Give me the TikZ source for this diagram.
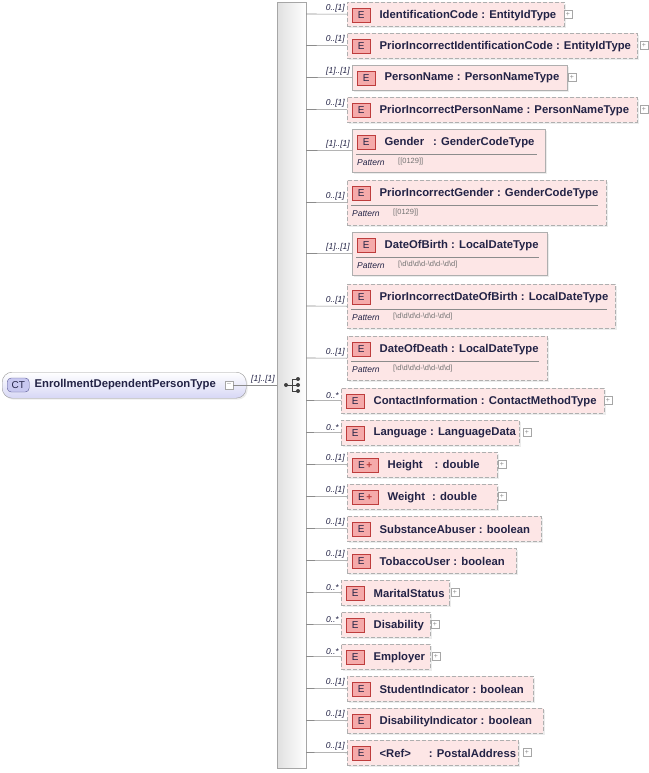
\documentclass[tikz,border=0pt]{standalone}
\usepackage{fontspec}
\setmainfont{Liberation Sans}
\usetikzlibrary{shadows}
\definecolor{efill}{RGB}{253,230,230}
\definecolor{ebord}{RGB}{175,175,175}
\definecolor{bfill}{RGB}{245,170,170}
\definecolor{bbord}{RGB}{190,60,60}
\definecolor{txt}{RGB}{35,35,70}
\tikzset{
 req/.style={draw=ebord,fill=efill,inner sep=0pt,drop shadow={shadow xshift=1.5pt,shadow yshift=-1.5pt,fill=black!15}},
 opt/.style={req,dash pattern=on 4pt off 2pt},
 ebadge/.style={draw=bbord,fill=bfill,inner sep=0pt,minimum height=14,font=\fontsize{10}{10}\selectfont,text=txt},
 etext/.style={font=\bfseries\fontsize{11.3}{12}\selectfont,text=txt,inner sep=0pt},
 mult/.style={font=\itshape\fontsize{8.5}{9}\selectfont,text=txt,inner sep=0pt,anchor=south east},
 pat/.style={font=\itshape\fontsize{8.5}{9}\selectfont,text=txt,inner sep=0pt,anchor=west},
 patv/.style={font=\fontsize{7.5}{8}\selectfont,text=black!55,inner sep=0pt,anchor=west},
 conn/.style={draw=black!45,line width=0.6pt},
 plusbox/.style={draw=black!35,fill=white,minimum size=8,inner sep=0pt,font=\fontsize{7}{7}\selectfont,text=black!45},
}
% id, left, right, top, bottom, style, mult, text, badge width
\newcommand\elm[9]{%
 \node[#6,minimum width={#3-#2},minimum height={#5-#4},anchor=north west] (#1) at (#2,#4) {};
 \node[ebadge,minimum width=#9,anchor=north west] (#1b) at ({#2+5},{#4+6}) {\elbadge};
 \node[etext,anchor=west] (#1t) at ([xshift=9]#1b.east) {#8};
 \coordinate (#1c) at (306,{(#4+#5)/2});
 \draw[conn] (#1c) -- (#1.west);
 \node[mult] (#1m) at ([xshift=-2,yshift=2]#1.west) {#7};
}
\newcommand\elbadge{E}
\newcommand\patt[5]{% id, left, right, top, value
 \draw[black!45] ({#2+4},{#4+25}) -- ({#3-8},{#4+25});
 \node[pat] (#1p) at ({#2+5},{#4+34}) {Pattern};
 \node[patv] (#1v) at ({#2+46},{#4+33}) {#5};
}
\newcommand\plusb[3]{\node[plusbox] (#1) at (#2,#3) {+};}
\begin{document}
\begin{tikzpicture}[x=1pt,y=-1pt]
\useasboundingbox (0,0) rectangle (648,773);
% bar
\node[draw=black!35,left color=black!12,right color=white,minimum width=29,minimum height=766,anchor=north west,inner sep=0pt] (bar) at (277,2) {};
% CT node
\node[draw=black!40,rounded corners=10pt,top color=white,bottom color={rgb,255:red,215;green,215;blue,245},minimum width=244,minimum height=26,anchor=north west,inner sep=0pt,drop shadow={shadow xshift=1.5pt,shadow yshift=-1.5pt,fill=black!15}] (ct) at (2,372) {};
\node[draw={rgb,255:red,90;green,90;blue,150},fill={rgb,255:red,200;green,200;blue,240},rounded corners=4pt,minimum width=22,minimum height=14,inner sep=0pt,font=\fontsize{10}{10}\selectfont,text=txt,anchor=west] (ctb) at (7,385) {CT};
\node[etext,anchor=west] (ctt) at ([xshift=5]ctb.east) {EnrollmentDependentPersonType};
\node[plusbox,font=\fontsize{7}{7}\selectfont] (ctm) at (229,385) {\raisebox{0.5pt}{–}};
\draw[conn] (ctm.east) -- (bar.west |- ctm);
\node[mult] (ctml) at (275,383) {[1]..[1]};
% sequence icon
\coordinate (s0) at (286,385);
\fill[black!75] (s0) circle (2);
\draw[black!75,line width=0.9pt] (s0) -- (292,385) (292,379) -- (292,391) (292,379) -- (298,379) (292,385) -- (298,385) (292,391) -- (298,391);
\fill[black!75] (298,379) circle (2) (298,385) circle (2) (298,391) circle (2);
% elements
\elm{e1}{347}{564}{2}{26}{opt}{0..[1]}{IdentificationCode : EntityIdType}{18}
\plusb{p1}{568}{14}
\elm{e2}{347}{637}{33}{58}{opt}{0..[1]}{PriorIncorrectIdentificationCode : EntityIdType}{18}
\plusb{p2}{644}{45}
\elm{e3}{352}{567}{65}{90}{req}{[1]..[1]}{PersonName : PersonNameType}{18}
\plusb{p3}{572}{77}
\elm{e4}{347}{637}{97}{122}{opt}{0..[1]}{PriorIncorrectPersonName : PersonNameType}{18}
\plusb{p4}{644}{109}
\elm{e5}{352}{545}{129}{172}{req}{[1]..[1]}{Gender\hspace{9pt}: GenderCodeType}{18}
\patt{e5}{352}{545}{129}{[[0129]]}
\elm{e6}{347}{606}{180}{225}{opt}{0..[1]}{PriorIncorrectGender : GenderCodeType}{18}
\patt{e6}{347}{606}{180}{[[0129]]}
\elm{e7}{352}{547}{232}{275}{req}{[1]..[1]}{DateOfBirth : LocalDateType}{18}
\patt{e7}{352}{547}{232}{[\textbackslash d\textbackslash d\textbackslash d\textbackslash d-\textbackslash d\textbackslash d-\textbackslash d\textbackslash d]}
\elm{e8}{347}{615}{284}{328}{opt}{0..[1]}{PriorIncorrectDateOfBirth : LocalDateType}{18}
\patt{e8}{347}{615}{284}{[\textbackslash d\textbackslash d\textbackslash d\textbackslash d-\textbackslash d\textbackslash d-\textbackslash d\textbackslash d]}
\elm{e9}{347}{547}{336}{380}{opt}{0..[1]}{DateOfDeath : LocalDateType}{18}
\patt{e9}{347}{547}{336}{[\textbackslash d\textbackslash d\textbackslash d\textbackslash d-\textbackslash d\textbackslash d-\textbackslash d\textbackslash d]}
\elm{e10}{341}{604}{388}{413}{opt}{0..*}{ContactInformation : ContactMethodType}{18}
\plusb{p10}{608}{400}
\elm{e11}{341}{519}{420}{445}{opt}{0..*}{Language : LanguageData}{18}
\plusb{p11}{527}{432}
\renewcommand\elbadge{E\,\textcolor{bbord}{\textbf{+}}}
\elm{e12}{347}{497}{452}{477}{opt}{0..[1]}{Height\hspace{12pt}: double}{26}
\plusb{p12}{502}{464}
\elm{e13}{347}{497}{484}{509}{opt}{0..[1]}{Weight\hspace{7pt}: double}{26}
\plusb{p13}{502}{496}
\renewcommand\elbadge{E}
\elm{e14}{347}{541}{516}{541}{opt}{0..[1]}{SubstanceAbuser : boolean}{18}
\elm{e15}{347}{516}{548}{573}{opt}{0..[1]}{TobaccoUser : boolean}{18}
\elm{e16}{341}{449}{580}{605}{opt}{0..*}{MaritalStatus}{18}
\plusb{p16}{455}{592}
\elm{e17}{341}{430}{612}{637}{opt}{0..*}{Disability}{18}
\plusb{p17}{435}{624}
\elm{e18}{341}{430}{644}{669}{opt}{0..*}{Employer}{18}
\plusb{p18}{436}{656}
\elm{e19}{347}{533}{676}{701}{opt}{0..[1]}{StudentIndicator : boolean}{18}
\elm{e20}{347}{543}{708}{733}{opt}{0..[1]}{DisabilityIndicator : boolean}{18}
\elm{e21}{347}{518}{740}{765}{opt}{0..[1]}{<Ref>\hspace{18pt}: PostalAddress}{18}
\plusb{p21}{527}{752}
\end{tikzpicture}
\end{document}
